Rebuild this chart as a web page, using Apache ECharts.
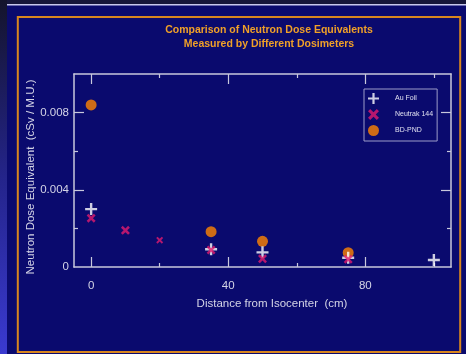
<!DOCTYPE html>
<html><head><meta charset="utf-8">
<script src="https://cdn.jsdelivr.net/npm/echarts@6/dist/echarts.min.js"></script>
<style>html,body{margin:0;padding:0;background:#0a0a6e}#c{width:466px;height:354px}</style>
</head><body><div id="c"></div>
<script>
const titleLines = ['Comparison of Neutron Dose Equivalents', 'Measured by Different Dosimeters'];
const xName = 'Distance from Isocenter  (cm)';
const yName = 'Neutron Dose Equivalent  (cSv / M.U.)';
const xTickLabels = [0, 40, 80];
const xMinorTicks = [20, 60, 100];
const yTickLabels = [0, 0.004, 0.008];
const yMajorTicks = [0.004, 0.008];
const yMinorTicks = [0.002, 0.006];
const seriesNames = ['Au Foil', 'Neutrak 144', 'BD-PND'];
const auFoilX = [0, 35, 50, 75, 100];
const auFoilY = [0.0030, 0.00092, 0.00076, 0.00048, 0.00036];
const neutrakX = [0, 10, 20, 35, 50, 75];
const neutrakY = [0.00253, 0.0019, 0.00139, 0.00088, 0.00043, 0.0004];
const bdpndX = [0, 35, 50, 75];
const bdpndY = [0.0084, 0.00183, 0.00133, 0.00074];

const axisCol = '#c8c8dc';
const txtCol = '#d4d4e6';
const font = 'Liberation Sans, Arial, sans-serif';
const plusPath = 'path://M4,0H6V4H10V6H6V10H4V6H0V4H4Z';
const crossPath = 'path://M0,2L2,0L5,3L8,0L10,2L7,5L10,8L8,10L5,7L2,10L0,8L3,5Z';

function xAx(pos, major, opts) {
  return Object.assign({
    type: 'value', min: -5, max: 105, position: pos,
    axisLine: {show: major, onZero: false, lineStyle: {color: axisCol, width: 1.5}},
    splitLine: {show: false},
    axisTick: {show: true, inside: true, length: major ? 10 : 4, customValues: major ? xTickLabels : xMinorTicks, lineStyle: {color: axisCol, width: 1.2}},
    axisLabel: {show: false}
  }, opts || {});
}
function yAx(pos, major, opts) {
  return Object.assign({
    type: 'value', min: 0, max: 0.01, position: pos,
    axisLine: {show: major, onZero: false, lineStyle: {color: axisCol, width: 1.5}},
    splitLine: {show: false},
    axisTick: {show: true, inside: true, length: major ? 10 : 4, customValues: major ? yMajorTicks : yMinorTicks, lineStyle: {color: axisCol, width: 1.2}},
    axisLabel: {show: false}
  }, opts || {});
}
const zip = (xs, ys) => xs.map((x, i) => [x, ys[i]]);

const chart = echarts.init(document.getElementById('c'), null, {renderer: 'canvas'});
chart.setOption({
  backgroundColor: '#0a0a6e',
  animation: false,
  title: {
    text: titleLines.join('\n'), left: 264, top: 18, textAlign: 'center',
    textStyle: {color: '#f0a028', fontSize: 10.5, fontWeight: 'bold', fontFamily: font, lineHeight: 14}
  },
  grid: {left: 74, right: 15, top: 74, bottom: 87},
  legend: {
    orient: 'vertical', left: 364, top: 89,
    data: seriesNames,
    itemWidth: 11, itemHeight: 11, itemGap: 5,
    padding: [4, 4, 5, 4],
    borderColor: '#9c9cc8', borderWidth: 1,
    textStyle: {color: '#e0e0f0', fontSize: 7, fontFamily: font, padding: [0, 0, 0, 11]}
  },
  xAxis: [
    xAx('bottom', true, {
      axisLabel: {show: true, customValues: xTickLabels, margin: 13, color: txtCol, fontSize: 11.5, fontFamily: font},
      name: xName, nameLocation: 'middle', nameGap: 31, nameMoveOverlap: false,
      nameTextStyle: {color: txtCol, fontSize: 11.5, fontFamily: font, padding: [0, 0, 0, 19]}
    }),
    xAx('bottom', false),
    xAx('top', true),
    xAx('top', false)
  ],
  yAxis: [
    yAx('left', true, {
      axisLabel: {show: true, customValues: yTickLabels, margin: 5, color: txtCol, fontSize: 11.5, fontFamily: font},
      name: yName, nameLocation: 'middle', nameGap: 37, nameMoveOverlap: false,
      nameTextStyle: {color: txtCol, fontSize: 11.5, fontFamily: font, padding: [0, 13, 0, 0]}
    }),
    yAx('left', false),
    yAx('right', true),
    yAx('right', false)
  ],
  series: [
    {name: seriesNames[0], type: 'scatter', symbol: plusPath, symbolSize: 12,
     itemStyle: {color: '#ffffff'}, data: zip(auFoilX, auFoilY), z: 4},
    {name: seriesNames[1], type: 'scatter', symbol: crossPath, symbolSize: 9,
     itemStyle: {color: '#e01a6e'}, z: 5,
     data: zip(neutrakX, neutrakY).map((p, i) => i === 2 ? {value: p, symbolSize: 7} : p)},
    {name: seriesNames[2], type: 'scatter', symbol: 'circle', symbolSize: 11,
     itemStyle: {color: '#ff8400'}, data: zip(bdpndX, bdpndY), z: 3}
  ],
  graphic: [
    {type: 'rect', shape: {x: 0, y: 0, width: 7, height: 354}, z: -1,
     style: {fill: new echarts.graphic.LinearGradient(0, 0, 0, 1, [{offset: 0, color: '#14142c'}, {offset: 0.5, color: '#24248a'}, {offset: 1, color: '#3a3ad0'}])}},
    {type: 'rect', shape: {x: 7, y: 0, width: 459, height: 4}, z: -1, style: {fill: '#16163a'}},
    {type: 'rect', shape: {x: 7, y: 4, width: 459, height: 1.5}, z: -1, style: {fill: '#c8c8ec'}},
    {type: 'rect', shape: {x: 17.8, y: 17, width: 442.4, height: 335}, z: -1,
     style: {fill: 'none', stroke: '#d8861e', lineWidth: 2}}
  ]
});
</script></body></html>
